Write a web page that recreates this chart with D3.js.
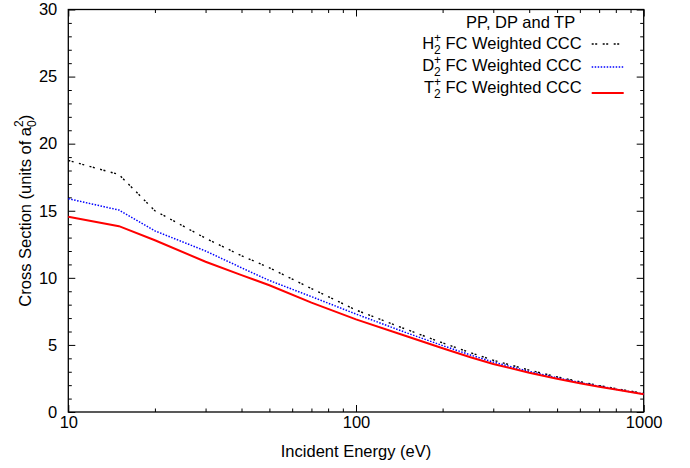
<!DOCTYPE html>
<html>
<head>
<meta charset="utf-8">
<script src="https://cdn.jsdelivr.net/npm/d3@7"></script>
<style>
  body { margin: 0; background: #fff; }
  svg { display: block; font-family: "Liberation Sans", Arial, sans-serif; }
  .tick text { font-size: 16.5px; fill: #000; }
</style>
</head>
<body>
<div class="viz"></div>
<script>
// data (cross section in units of a0^2)
const energies = [10, 15, 20, 30, 40, 50, 70, 100, 150, 200, 250, 300, 400, 500, 600, 700, 800, 1000];
const h2Values = [18.75, 17.7, 15.0, 12.95, 11.65, 10.75, 9.2, 7.6, 6.15, 5.15, 4.42, 3.86, 3.12, 2.62, 2.26, 1.97, 1.74, 1.39];
const d2Values = [15.9, 15.05, 13.5, 12.0, 10.75, 9.8, 8.6, 7.3, 5.9, 4.95, 4.25, 3.72, 3.02, 2.55, 2.2, 1.92, 1.7, 1.35];
const t2Values = [14.55, 13.85, 12.8, 11.2, 10.2, 9.45, 8.15, 6.9, 5.65, 4.75, 4.08, 3.58, 2.93, 2.48, 2.15, 1.88, 1.67, 1.32];
const xTicks = [10, 100, 1000];
const yTicks = [0, 5, 10, 15, 20, 25, 30];

const series = [
    { letter: 'H', values: h2Values, color: '#000', width: 1.4, dash: '2,1.5,2,5.5' },
    { letter: 'D', values: d2Values, color: '#0000ff', width: 1.5, dash: '1.5,1.5' },
    { letter: 'T', values: t2Values, color: '#ff0000', width: 2, dash: null },
];

// set margins
const margins = { top: 9.5, right: 46.3, bottom: 56, left: 68.3 };
const width = 690 - margins.left - margins.right;
const height = 468 - margins.top - margins.bottom;
const FONT = 16.5, SMALL = 12;

const svg = d3.select('div.viz')
    .append('svg')
    .attr('width', 690)
    .attr('height', 468)
    .append('g')
    .attr('transform', 'translate(' + margins.left + ',' + margins.top + ')');

const xScale = d3.scaleLog().domain([10, 1000]).range([0, width]);
const yScale = d3.scaleLinear().domain([0, 30]).range([height, 0]);

// minor ticks
const xMinor = [];
[10, 100].forEach(function(base) {
    for (let k = 2; k <= 9; k++) xMinor.push(base * k);
});
const yMinor = d3.range(0, 31).filter((v) => v % 5 !== 0);

const MAJOR = 7, MINOR = 3.5;

function styleAxis(g) {
    g.select('.domain').remove();
    g.selectAll('.tick line').attr('stroke', '#000').attr('stroke-width', 1);
}

// bottom + top axes
svg.append('g')
    .attr('transform', 'translate(0,' + height + ')')
    .call(d3.axisBottom(xScale).tickValues(xTicks).tickFormat(d3.format('d')).tickSize(-MAJOR).tickPadding(4))
    .call(styleAxis);
svg.append('g')
    .attr('transform', 'translate(0,' + height + ')')
    .call(d3.axisBottom(xScale).tickValues(xMinor).tickFormat('').tickSize(-MINOR))
    .call(styleAxis);
svg.append('g')
    .call(d3.axisTop(xScale).tickValues(xTicks).tickFormat('').tickSize(-MAJOR))
    .call(styleAxis);
svg.append('g')
    .call(d3.axisTop(xScale).tickValues(xMinor).tickFormat('').tickSize(-MINOR))
    .call(styleAxis);

// left + right axes
svg.append('g')
    .call(d3.axisLeft(yScale).tickValues(yTicks).tickSize(-MAJOR).tickPadding(11))
    .call(styleAxis);
svg.append('g')
    .call(d3.axisLeft(yScale).tickValues(yMinor).tickFormat('').tickSize(-MINOR))
    .call(styleAxis);
svg.append('g')
    .attr('transform', 'translate(' + width + ',0)')
    .call(d3.axisRight(yScale).tickValues(yTicks).tickFormat('').tickSize(-MAJOR))
    .call(styleAxis);
svg.append('g')
    .attr('transform', 'translate(' + width + ',0)')
    .call(d3.axisRight(yScale).tickValues(yMinor).tickFormat('').tickSize(-MINOR))
    .call(styleAxis);

// border
svg.append('rect')
    .attr('width', width)
    .attr('height', height)
    .attr('fill', 'none')
    .attr('stroke', '#000')
    .attr('stroke-width', 1.3);

// lines
const line = d3.line()
    .x((d) => xScale(d[0]))
    .y((d) => yScale(d[1]));

series.forEach(function(s) {
    svg.append('path')
        .datum(energies.map((e, i) => [e, s.values[i]]))
        .attr('d', line)
        .attr('fill', 'none')
        .attr('stroke', s.color)
        .attr('stroke-width', s.width)
        .attr('stroke-dasharray', s.dash);
});

// axis titles
svg.append('text')
    .attr('x', width / 2)
    .attr('y', 457 - margins.top)
    .attr('text-anchor', 'middle')
    .attr('font-size', FONT)
    .text('Incident Energy (eV)');

const yTitle = svg.append('text')
    .attr('transform', 'translate(' + (30.5 - margins.left) + ',' + (height / 2) + ') rotate(-90)')
    .attr('text-anchor', 'middle')
    .attr('font-size', FONT);
yTitle.append('tspan').text('Cross Section (units of a');
yTitle.append('tspan').attr('font-size', SMALL).attr('dy', 5).text('0');
yTitle.append('tspan').attr('font-size', SMALL).attr('dx', -6.7).attr('dy', -13).text('2');
yTitle.append('tspan').attr('dy', 8).text(')');

// legend
const legend = svg.append('g')
    .attr('transform', 'translate(' + (581.7 - margins.left) + ',' + (-margins.top) + ')');

legend.append('text')
    .attr('x', -6.5)
    .attr('y', 28)
    .attr('text-anchor', 'end')
    .attr('font-size', FONT)
    .text('PP, DP and TP');

const legendRows = [48.5, 70.5, 92.5];
const legendLines = [44, 67, 93];

series.forEach(function(s, i) {
    const t = legend.append('text')
        .attr('x', 0)
        .attr('y', legendRows[i])
        .attr('text-anchor', 'end')
        .attr('font-size', FONT);
    t.append('tspan').text(s.letter);
    t.append('tspan').attr('font-size', SMALL).attr('dy', -6.5).text('+');
    t.append('tspan').attr('font-size', SMALL).attr('dx', -7).attr('dy', 11.5).text('2');
    t.append('tspan').attr('dy', -5).text(' FC Weighted CCC');

    legend.append('line')
        .attr('x1', 10)
        .attr('x2', 42)
        .attr('y1', legendLines[i])
        .attr('y2', legendLines[i])
        .attr('stroke', s.color)
        .attr('stroke-width', s.width)
        .attr('stroke-dasharray', s.dash);
});
</script>
</body>
</html>
